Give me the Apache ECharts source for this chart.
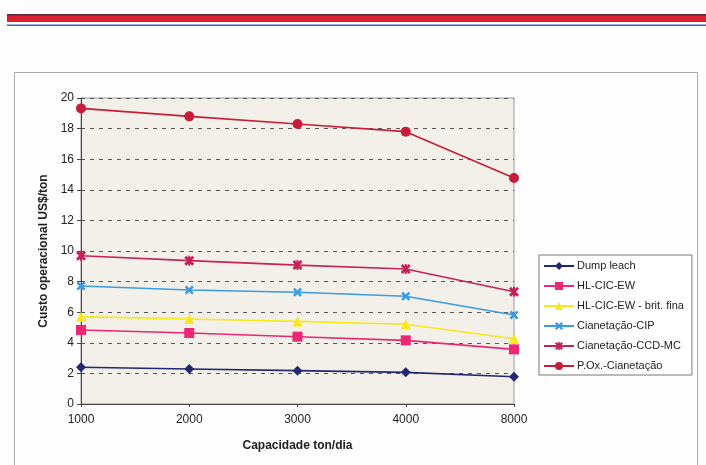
<!DOCTYPE html>
<html>
<head>
<meta charset="utf-8">
<script src="https://cdn.jsdelivr.net/npm/echarts@6/dist/echarts.min.js"></script>
<style>
  html, body { margin: 0; padding: 0; background: #fefefe; }
  #chart { width: 706px; height: 465px; }
</style>
</head>
<body>
<div id="chart"></div>
<script>
// Capacidade da planta (ton/dia)
const capacities = ['1000', '2000', '3000', '4000', '8000'];

// Custo operacional (US$/ton) por rota de processo
const dumpLeach = [2.40, 2.29, 2.18, 2.07, 1.78];
const hlCicEw = [4.84, 4.64, 4.40, 4.16, 3.57];
const hlCicEwBritFina = [5.71, 5.56, 5.40, 5.21, 4.27];
const cianetacaoCip = [7.71, 7.45, 7.30, 7.04, 5.82];
const cianetacaoCcdMc = [9.69, 9.37, 9.08, 8.82, 7.34];
const pOxCianetacao = [19.32, 18.80, 18.30, 17.80, 14.77];

const yTicks = { min: 0, max: 20, step: 2 };

const crossPath = 'path://M0,2 L2,0 L5,3 L8,0 L10,2 L7,5 L10,8 L8,10 L5,7 L2,10 L0,8 L3,5 Z';
const starPath = 'path://M0,2 L2,0 L5,3 L8,0 L10,2 L7,5 L10,8 L8,10 L5,7 L2,10 L0,8 L3,5 Z M4,0 L6,0 L6,10 L4,10 Z';

function line(name, data, color, symbol, size) {
  return {
    name, type: 'line', data,
    symbol, symbolSize: size,
    showSymbol: true,
    lineStyle: { color, width: 1.6 },
    itemStyle: { color },
    emphasis: { disabled: true },
    animation: false
  };
}

const chart = echarts.init(document.getElementById('chart'), null, { renderer: 'canvas' });
chart.setOption({
  backgroundColor: '#fefefe',
  textStyle: { fontFamily: 'Liberation Sans, Arial, sans-serif' },
  animation: false,
  graphic: [
    // faixa do cabeçalho
    { type: 'rect', shape: { x: 7, y: 14, width: 699, height: 8 }, style: { fill: '#d9202e' }, silent: true },
    { type: 'rect', shape: { x: 7, y: 14, width: 699, height: 1.5 }, style: { fill: '#5a2a3a' }, silent: true },
    { type: 'rect', shape: { x: 7, y: 24.5, width: 699, height: 1.5 }, style: { fill: '#3a66c0' }, silent: true },
    // moldura externa do gráfico
    { type: 'rect', shape: { x: 14.5, y: 72.5, width: 683, height: 400 }, style: { fill: 'none', stroke: '#a8a8a8', lineWidth: 1 }, silent: true, z: -1 }
  ],
  grid: {
    left: 81, top: 98, right: 192, bottom: 61,
    show: true, backgroundColor: '#f3f0e9', borderColor: '#9a9a9a', borderWidth: 1
  },
  legend: {
    orient: 'vertical',
    left: 539, top: 255,
    padding: [5, 8, 3, 4],
    itemWidth: 30, itemHeight: 10, itemGap: 8,
    backgroundColor: '#ffffff',
    borderColor: '#777', borderWidth: 1, borderRadius: 0,
    textStyle: { fontSize: 11, color: '#222', padding: [0, 0, 0, -2], lineHeight: 12 },
    data: ['Dump leach', 'HL-CIC-EW', 'HL-CIC-EW - brit. fina', 'Cianetação-CIP', 'Cianetação-CCD-MC', 'P.Ox.-Cianetação']
  },
  xAxis: {
    type: 'category', data: capacities, boundaryGap: false,
    name: 'Capacidade ton/dia', nameLocation: 'middle', nameGap: 36,
    nameTextStyle: { fontSize: 12, fontWeight: 'bold', color: '#222' },
    axisLine: { lineStyle: { color: '#444', width: 1 } },
    axisTick: { show: true, length: 3, lineStyle: { color: '#444' } },
    axisLabel: { fontSize: 12, color: '#222', margin: 10 },
    splitLine: { show: false }
  },
  yAxis: {
    type: 'value', min: yTicks.min, max: yTicks.max, interval: yTicks.step,
    name: 'Custo operacional US$/ton', nameLocation: 'middle', nameGap: 31,
    nameTextStyle: { fontSize: 12, fontWeight: 'bold', color: '#222' },
    axisLine: { show: true, lineStyle: { color: '#444', width: 1 } },
    axisTick: { show: true, length: 4, lineStyle: { color: '#444' } },
    axisLabel: { fontSize: 12, color: '#222', margin: 7 },
    splitLine: { show: true, lineStyle: { color: '#555', type: [4, 5], width: 1 } }
  },
  series: [
    line('Dump leach', dumpLeach, '#23276f', 'diamond', 10),
    line('HL-CIC-EW', hlCicEw, '#ec2774', 'rect', 10),
    line('HL-CIC-EW - brit. fina', hlCicEwBritFina, '#f6e81c', 'triangle', 10),
    line('Cianetação-CIP', cianetacaoCip, '#3a9be2', crossPath, 9),
    line('Cianetação-CCD-MC', cianetacaoCcdMc, '#c4235a', starPath, 10),
    line('P.Ox.-Cianetação', pOxCianetacao, '#c81d3a', 'circle', 10)
  ]
});
</script>
</body>
</html>
